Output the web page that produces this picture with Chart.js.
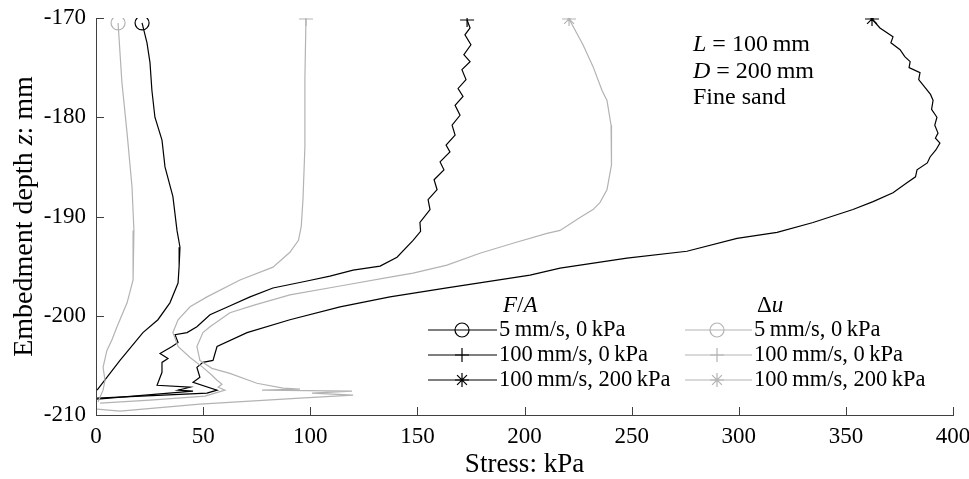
<!DOCTYPE html>
<html>
<head>
<meta charset="utf-8">
<script src="https://cdn.jsdelivr.net/npm/chart.js@4.4.0/dist/chart.umd.min.js"></script>
<style>
  body { margin: 0; background: #fff; }
  canvas { display: block; }
</style>
</head>
<body>
<canvas id="grafica" width="969" height="479"></canvas>
<script>
// Datos (profundidad en mm, tension en kPa)
const depthFA5 = [-170.5, -172.5, -174.5, -177.3, -180.0, -182.3, -185.0, -188.0, -191.4, -193.1, -195.0, -196.7, -198.7, -200.4, -201.7, -204.5, -207.5];
const stressFA5 = [21.5, 23.8, 25.2, 26.1, 27.5, 30.8, 32.2, 35.9, 37.8, 39.2, 38.8, 38.3, 34.5, 28.9, 21.9, 11.2, 0.5];

const depthFA100 = [-170.2, -171.0, -171.7, -172.7, -173.7, -174.4, -175.2, -176.2, -177.1, -177.9, -178.8, -179.8, -180.8, -181.8, -182.8, -183.5, -184.5, -185.3, -186.3, -187.3, -188.3, -189.3, -190.6, -191.5, -192.4, -194.1, -195.0, -195.4, -196.0, -196.5, -197.2, -198.1, -199.1, -199.9, -201.1, -201.7, -201.9, -202.7, -203.1, -203.8, -204.3, -204.7, -205.7, -207.0, -207.2, -207.5, -207.6, -208.4];
const stressFA100 = [173.2, 174.6, 172.2, 175.0, 171.7, 174.6, 170.8, 172.7, 169.0, 171.3, 167.6, 169.9, 166.2, 167.6, 163.4, 165.2, 160.6, 162.4, 157.8, 159.2, 155.0, 155.9, 151.2, 151.5, 148.0, 140.5, 132.6, 120.0, 109.2, 98.5, 82.6, 71.9, 61.6, 53.2, 47.1, 42.5, 36.9, 38.3, 35.5, 29.9, 33.6, 30.8, 30.8, 28.5, 43.9, 38.3, 45.3, 0.5];

const depthFA200 = [-170.1, -171.0, -171.9, -172.5, -173.2, -173.9, -174.4, -175.0, -175.5, -176.2, -177.0, -177.7, -178.3, -179.2, -180.0, -180.8, -181.6, -182.1, -182.6, -183.3, -184.0, -184.6, -185.3, -186.0, -186.6, -187.6, -188.5, -189.3, -190.6, -191.6, -192.2, -193.5, -194.2, -195.2, -195.9, -197.2, -198.1, -199.1, -200.4, -201.7, -203.1, -204.5, -204.7, -205.2, -206.2, -206.7, -207.5, -207.8, -208.3];
const stressFA200 = [362.2, 365.9, 372.0, 371.0, 375.3, 377.5, 380.0, 379.5, 384.6, 384.0, 386.9, 389.5, 390.7, 390.0, 392.5, 391.5, 393.0, 391.8, 393.9, 392.0, 389.3, 388.0, 383.2, 382.5, 378.5, 372.0, 362.7, 353.3, 334.7, 317.9, 299.2, 275.8, 247.8, 216.6, 202.6, 163.8, 137.2, 113.9, 90.5, 70.5, 56.5, 54.6, 49.9, 47.1, 48.5, 45.3, 56.5, 51.8, 0.5];

const depthDu5 = [-170.5, -176.5, -181.6, -187.0, -191.4, -196.4, -198.7, -201.1, -202.4, -203.5, -205.2, -206.5, -207.5, -208.7];
const stressDu5 = [10.3, 12.1, 14.5, 16.8, 17.7, 17.3, 14.5, 9.8, 7.5, 5.1, 3.3, 4.2, 3.3, 0.9];

const depthDu100 = [-170.1, -176.2, -183.0, -188.3, -191.0, -192.4, -193.6, -195.1, -196.4, -198.1, -199.1, -200.4, -201.7, -203.1, -204.2, -205.2, -206.0, -206.5, -206.9, -207.2, -207.5, -208.1, -208.5, -208.8];
const stressDu100 = [98.0, 97.5, 97.5, 96.6, 95.8, 94.5, 90.5, 82.6, 67.2, 51.8, 43.9, 38.3, 35.9, 38.3, 43.9, 49.9, 54.1, 56.5, 58.8, 57.0, 60.2, 50.9, 25.2, 1.9];

const depthDu200 = [-170.1, -172.7, -174.9, -177.3, -178.3, -180.8, -182.6, -184.8, -187.3, -188.6, -189.3, -190.1, -191.4, -191.7, -192.7, -193.7, -194.9, -195.7, -196.1, -197.0, -197.9, -198.9, -199.7, -201.1, -201.7, -203.1, -204.5, -205.3, -205.8, -206.8, -207.3, -207.4, -207.5, -207.6, -207.8, -208.0, -208.3, -208.9, -209.6, -209.4];
const stressDu200 = [220.8, 227.3, 232.0, 236.2, 238.5, 240.4, 240.8, 240.4, 238.5, 235.2, 232.0, 225.9, 216.6, 210.5, 194.6, 179.2, 163.8, 148.0, 137.2, 113.9, 90.5, 74.2, 62.5, 53.2, 49.9, 47.1, 48.5, 54.1, 62.5, 75.1, 87.3, 95.2, 77.5, 119.5, 100.8, 120.0, 95.2, 48.5, 11.2, 0.5];

const xTicks = [0, 50, 100, 150, 200, 250, 300, 350, 400];
const yTicks = [-170, -180, -190, -200, -210];

const legendLabels = ["5\u2009mm/s, 0\u2009kPa", "100\u2009mm/s, 0\u2009kPa", "100\u2009mm/s, 200\u2009kPa"];

const NEGRO = '#000000';
const GRIS = '#b3b3b3';
const EJE = '#404040';
const SERIF = '"Liberation Serif", "DejaVu Serif", serif';

function puntos(depth, stress) {
    return depth.map((d, i) => ({ x: stress[i], y: d }));
}

function serie(label, depth, stress, color, estilo) {
    return {
        label: label,
        data: puntos(depth, stress),
        showLine: true,
        borderColor: color,
        borderWidth: 1.2,
        tension: 0,
        pointStyle: estilo,
        pointBorderColor: color,
        pointBackgroundColor: 'rgba(0,0,0,0)',
        pointBorderWidth: 1.2,
        pointRadius: ctx => ctx.dataIndex === 0 ? 7 : 0,
        pointHoverRadius: 0
    };
}

// Dibuja un marcador simple (circulo, cruz o asterisco)
function marcador(ctx, estilo, x, y, r) {
    ctx.beginPath();
    if (estilo === 'circle') {
        ctx.arc(x, y, r, 0, Math.PI * 2);
    } else {
        ctx.moveTo(x - r, y); ctx.lineTo(x + r, y);
        ctx.moveTo(x, y - r); ctx.lineTo(x, y + r);
        if (estilo === 'star') {
            const d = r * Math.SQRT1_2;
            ctx.moveTo(x - d, y - d); ctx.lineTo(x + d, y + d);
            ctx.moveTo(x - d, y + d); ctx.lineTo(x + d, y - d);
        }
    }
    ctx.stroke();
}

// Texto con partes en cursiva
function textoMixto(ctx, partes, x, y, size, align) {
    let total = 0;
    partes.forEach(p => {
        ctx.font = (p.i ? 'italic ' : '') + size + 'px ' + SERIF;
        p.w = ctx.measureText(p.t).width;
        total += p.w;
    });
    let cx = align === 'center' ? x - total / 2 : x;
    ctx.textAlign = 'left';
    partes.forEach(p => {
        ctx.font = (p.i ? 'italic ' : '') + size + 'px ' + SERIF;
        ctx.fillText(p.t, cx, y);
        cx += p.w;
    });
}

const extras = {
    id: 'extras',
    afterDraw(chart) {
        const ctx = chart.ctx;
        const area = chart.chartArea;
        const sx = chart.scales.x;
        const sy = chart.scales.y;
        ctx.save();

        // marcas de ejes hacia adentro
        ctx.strokeStyle = EJE;
        ctx.lineWidth = 1;
        ctx.beginPath();
        xTicks.forEach(v => {
            const px = Math.round(sx.getPixelForValue(v)) + 0.5;
            ctx.moveTo(px, area.bottom);
            ctx.lineTo(px, area.bottom - 8);
        });
        yTicks.forEach(v => {
            const py = Math.round(sy.getPixelForValue(v)) + 0.5;
            ctx.moveTo(area.left, py);
            ctx.lineTo(area.left + 8, py);
        });
        ctx.stroke();

        ctx.fillStyle = '#000';
        ctx.textBaseline = 'middle';

        // titulos de ejes
        textoMixto(ctx, [{ t: 'Stress: kPa' }], (area.left + area.right) / 2, 465, 27, 'center');
        ctx.save();
        ctx.translate(25, (area.top + area.bottom) / 2);
        ctx.rotate(-Math.PI / 2);
        textoMixto(ctx, [{ t: 'Embedment depth ' }, { t: 'z', i: true }, { t: ': mm' }], 0, 0, 28, 'center');
        ctx.restore();

        // anotacion
        textoMixto(ctx, [{ t: 'L', i: true }, { t: ' = 100\u2009mm' }], 693, 45, 24, 'left');
        textoMixto(ctx, [{ t: 'D', i: true }, { t: ' = 200\u2009mm' }], 693, 72, 24, 'left');
        textoMixto(ctx, [{ t: 'Fine sand' }], 693, 98, 24, 'left');

        // leyenda
        textoMixto(ctx, [{ t: 'F', i: true }, { t: '/' }, { t: 'A', i: true }], 503, 306, 23, 'left');
        textoMixto(ctx, [{ t: '\u0394' }, { t: 'u', i: true }], 757, 306, 23, 'left');
        const estilos = ['circle', 'cross', 'star'];
        const filas = [330, 355, 380];
        const columnas = [
            { color: NEGRO, x0: 428, x1: 497, m: 462, tx: 499 },
            { color: GRIS, x0: 685, x1: 752, m: 717, tx: 754 }
        ];
        columnas.forEach(c => {
            filas.forEach((fy, i) => {
                ctx.strokeStyle = c.color;
                ctx.lineWidth = 1.2;
                ctx.beginPath();
                ctx.moveTo(c.x0, fy);
                ctx.lineTo(c.x1, fy);
                ctx.stroke();
                marcador(ctx, estilos[i], c.m, fy, 7);
                ctx.fillStyle = '#000';
                textoMixto(ctx, [{ t: legendLabels[i] }], c.tx, fy, 22.5, 'left');
            });
        });
        ctx.restore();
    }
};

const ctx = document.getElementById('grafica').getContext('2d');
const grafica = new Chart(ctx, {
    type: 'scatter',
    data: {
        datasets: [
            serie('F/A 5 mm/s, 0 kPa', depthFA5, stressFA5, NEGRO, 'circle'),
            serie('F/A 100 mm/s, 0 kPa', depthFA100, stressFA100, NEGRO, 'cross'),
            serie('F/A 100 mm/s, 200 kPa', depthFA200, stressFA200, NEGRO, 'star'),
            serie('Du 5 mm/s, 0 kPa', depthDu5, stressDu5, GRIS, 'circle'),
            serie('Du 100 mm/s, 0 kPa', depthDu100, stressDu100, GRIS, 'cross'),
            serie('Du 100 mm/s, 200 kPa', depthDu200, stressDu200, GRIS, 'star')
        ].reverse()
    },
    options: {
        responsive: false,
        animation: false,
        devicePixelRatio: 1,
        layout: { padding: { left: 0, top: 18, right: 16, bottom: 0 } },
        plugins: {
            legend: { display: false },
            tooltip: { enabled: false }
        },
        scales: {
            x: {
                type: 'linear',
                min: 0,
                max: 400,
                afterFit: s => { s.height = 64; s.paddingLeft = 0; s.paddingRight = 0; },
                afterBuildTicks: s => { s.ticks = xTicks.map(v => ({ value: v })); },
                grid: { display: false, drawTicks: false },
                border: { display: true, color: EJE, width: 1 },
                ticks: { color: '#000', padding: 8, font: { family: SERIF, size: 23 } }
            },
            y: {
                type: 'linear',
                min: -210,
                max: -170,
                afterFit: s => { s.width = 96; s.paddingTop = 0; s.paddingBottom = 0; },
                afterBuildTicks: s => { s.ticks = yTicks.map(v => ({ value: v })); },
                grid: { display: false, drawTicks: false },
                border: { display: true, color: EJE, width: 1 },
                ticks: { color: '#000', padding: 10, font: { family: SERIF, size: 23 }, callback: v => String(v) }
            }
        }
    },
    plugins: [extras]
});
</script>
</body>
</html>
